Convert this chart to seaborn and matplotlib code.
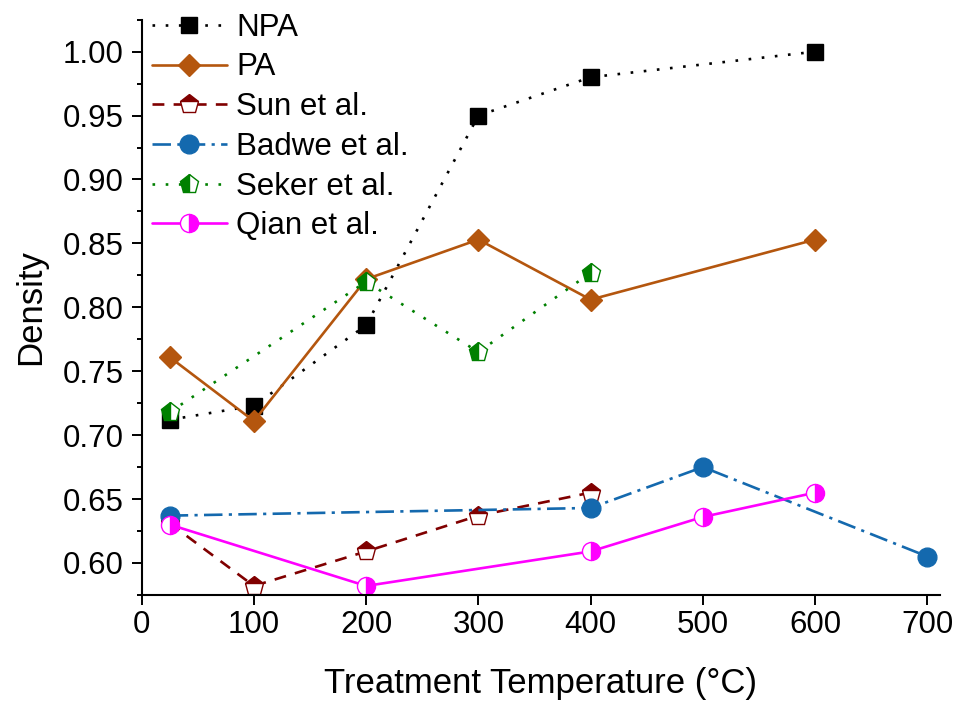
import matplotlib
matplotlib.use('Agg')
import matplotlib.pyplot as plt
from matplotlib.ticker import MultipleLocator
import seaborn as sns

# values
npa_x = [25, 100, 200, 300, 400, 600]
npa_y = [0.712, 0.723, 0.786, 0.950, 0.980, 1.000]

pa_x = [25, 100, 200, 300, 400, 600]
pa_y = [0.761, 0.711, 0.822, 0.853, 0.806, 0.853]

sun_x = [25, 100, 200, 300, 400]
sun_y = [0.631, 0.582, 0.609, 0.637, 0.655]

badwe_x = [25, 400, 500, 700]
badwe_y = [0.637, 0.643, 0.675, 0.605]

seker_x = [25, 200, 300, 400]
seker_y = [0.718, 0.820, 0.765, 0.827]

qian_x = [25, 200, 400, 500, 600]
qian_y = [0.630, 0.582, 0.609, 0.636, 0.655]

sns.set_theme(style='ticks')
plt.rcParams['font.family'] = ['Liberation Sans', 'DejaVu Sans']
plt.rcParams['text.color'] = 'black'
plt.rcParams['axes.labelcolor'] = 'black'

fig = plt.figure(figsize=(9.57, 7.04), dpi=100)
ax = fig.add_axes([0.148, 0.155, 0.834, 0.817])

lw = 1.9
series = [
    ('NPA', npa_x, npa_y, 'black', (0, (1, 4.0)), 's', 11, 'full'),
    ('PA', pa_x, pa_y, '#B4560E', '-', 'D', 11.5, 'full'),
    ('Sun et al.', sun_x, sun_y, '#800000', (0, (4.5, 3.5)), 'p', 14, 'top'),
    ('Badwe et al.', badwe_x, badwe_y, '#1469AE', (0, (7, 2.4, 1.2, 2.4)), 'o', 13.5, 'full'),
    ('Seker et al.', seker_x, seker_y, '#008000', (0, (1, 4.0)), 'p', 14, 'left'),
    ('Qian et al.', qian_x, qian_y, '#FF00FF', '-', 'o', 13, 'right'),
]

for name, xs, ys, col, ls, mk, ms, fs in series:
    sns.lineplot(x=xs, y=ys, ax=ax, color=col, linestyle=ls, linewidth=lw,
                 marker=mk, markersize=ms, fillstyle=fs,
                 markerfacecolor=col, markerfacecoloralt='white',
                 markeredgecolor=col, markeredgewidth=1.0,
                 label=name, sort=False)

ax.set_xlim(0, 711)
ax.set_ylim(0.575, 1.025)
ax.xaxis.set_major_locator(MultipleLocator(100))
ax.yaxis.set_major_locator(MultipleLocator(0.05))
ax.yaxis.set_minor_locator(MultipleLocator(0.025))
ax.yaxis.set_major_formatter(matplotlib.ticker.FormatStrFormatter('%.2f'))

for side in ['top', 'right']:
    ax.spines[side].set_visible(False)
for side in ['left', 'bottom']:
    ax.spines[side].set_linewidth(1.5)
    ax.spines[side].set_color('black')

ax.tick_params(axis='both', which='major', direction='out', length=7, width=1.4,
               labelsize=22.5, colors='black')
ax.tick_params(axis='x', pad=4)
ax.tick_params(axis='y', pad=6)
ax.tick_params(axis='y', which='minor', direction='out', length=3.5, width=1.4, color='black')

ax.set_xlabel('Treatment Temperature (°C)', fontsize=25, labelpad=19)
ax.set_ylabel('Density', fontsize=25, labelpad=11)

ax.legend(loc='upper left', bbox_to_anchor=(0.0125, 1.012), frameon=False,
          fontsize=22.5, borderaxespad=0, borderpad=0, labelspacing=0.31,
          handlelength=2.4, handletextpad=0.3)

fig.savefig('out.png', dpi=100)
